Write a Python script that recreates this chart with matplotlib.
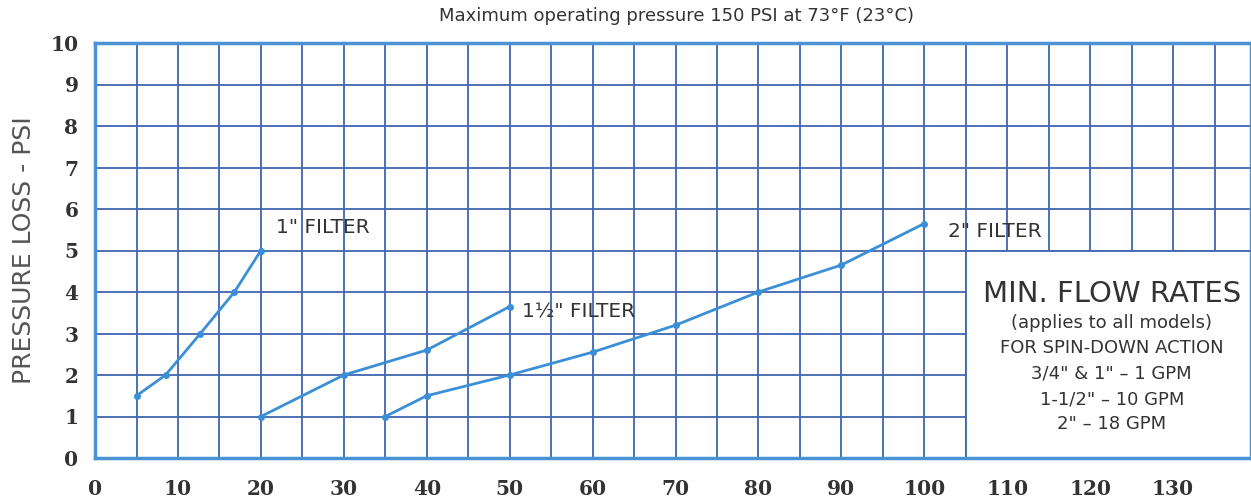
import numpy as np
import matplotlib.pyplot as plt
from matplotlib.patches import Rectangle

# flow (GPM) vs pressure loss (PSI)
x_1in = [5, 8.5, 12.7, 16.8, 20]
y_1in = [1.5, 2.0, 3.0, 4.0, 5.0]

x_15in = [20, 30, 40, 50]
y_15in = [1.0, 2.0, 2.6, 3.65]

x_2in = [35, 40, 50, 60, 70, 80, 90, 100]
y_2in = [1.0, 1.5, 2.0, 2.55, 3.2, 4.0, 4.65, 5.65]

xticks = [0, 10, 20, 30, 40, 50, 60, 70, 80, 90, 100, 110, 120, 130]
yticks = [0, 1, 2, 3, 4, 5, 6, 7, 8, 9, 10]

box_lines = ['(applies to all models)', 'FOR SPIN-DOWN ACTION',
             '3/4" & 1" \u2013 1 GPM', '1-1/2" \u2013 10 GPM', '2" \u2013 18 GPM']

line_col = '#3a8fd6'
grid_col = '#3f66b2'
frame_col = '#4a92d6'
txt_col = '#333333'

fig = plt.figure(figsize=(12.51, 5.0), dpi=100)
ax = fig.add_axes([0.076, 0.084, 0.924, 0.83])

ax.set_xlim(0, 139.4)
ax.set_ylim(0, 10)

# grid: every 5 GPM, every 1 PSI
for gx in np.arange(5, 140, 5):
    ax.axvline(gx, color=grid_col, lw=1.3, zorder=1)
for gy in yticks[1:-1]:
    ax.axhline(gy, color=grid_col, lw=1.3, zorder=1)

# white box for the min flow rates note
ax.add_patch(Rectangle((105, 0), 40, 5, facecolor='white', edgecolor=grid_col,
                       lw=1.3, zorder=2))

for xs, ys in [(x_1in, y_1in), (x_15in, y_15in), (x_2in, y_2in)]:
    ax.plot(xs, ys, '-', color=line_col, lw=2, marker='o', ms=4, zorder=3)

lab = dict(fontsize=14.5, color=txt_col, family='DejaVu Sans', va='center', zorder=4)
ax.text(21.8, 5.55, '1" FILTER', **lab)
ax.text(51.5, 3.52, '1\u00bd" FILTER', **lab)
ax.text(102.8, 5.45, '2" FILTER', **lab)

cx = 122.6
ax.text(cx, 3.95, 'MIN. FLOW RATES', fontsize=21, color=txt_col, ha='center',
        va='center', family='DejaVu Sans', zorder=4)
for i, s in enumerate(box_lines):
    ax.text(cx, 3.25 - i * 0.61, s, fontsize=13, color=txt_col, ha='center',
            va='center', family='DejaVu Sans', zorder=4)

for sp in ax.spines.values():
    sp.set_color(frame_col)
    sp.set_linewidth(2.5)
    sp.set_zorder(5)

ax.set_xticks(xticks)
ax.set_yticks(yticks)
ax.tick_params(axis='y', length=0, pad=12, colors=txt_col)
ax.tick_params(axis='x', length=0, pad=15, colors=txt_col)
for t in ax.get_xticklabels() + ax.get_yticklabels():
    t.set_fontfamily('DejaVu Serif')
    t.set_fontweight('bold')
    t.set_fontsize(14.5)

ax.set_ylabel('PRESSURE LOSS - PSI', fontsize=18, color='#555555',
              family='DejaVu Sans', labelpad=10)

fig.text(0.541, 0.968, 'Maximum operating pressure 150 PSI at 73\u00b0F (23\u00b0C)',
         fontsize=13, color=txt_col, ha='center', va='center')

fig.savefig('out.png', dpi=100)
